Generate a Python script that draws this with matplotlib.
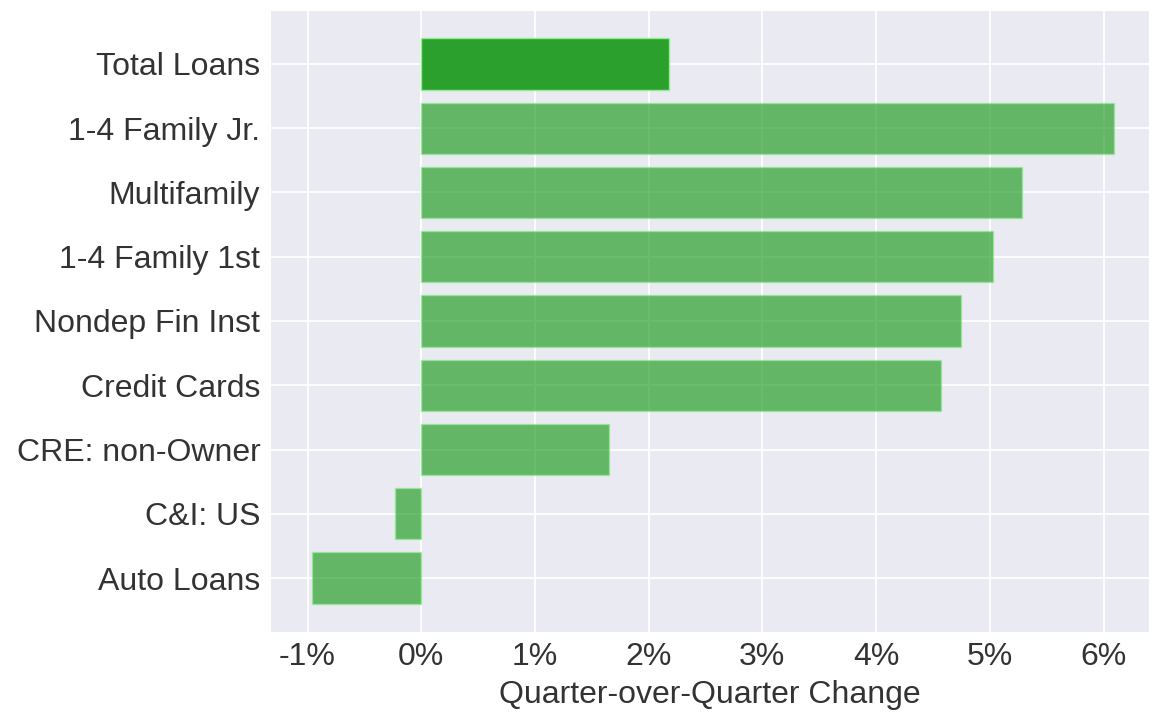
import matplotlib
matplotlib.use("Agg")
import matplotlib.pyplot as plt
import seaborn as sns
from matplotlib.ticker import FuncFormatter

categories = ["Total Loans", "1-4 Family Jr.", "Multifamily", "1-4 Family 1st",
              "Nondep Fin Inst", "Credit Cards", "CRE: non-Owner", "C&I: US", "Auto Loans"]
values = [2.18, 6.09, 5.28, 5.03, 4.75, 4.57, 1.65, -0.23, -0.96]
xticks = [-1, 0, 1, 2, 3, 4, 5, 6]

sns.set_style("darkgrid")
plt.rcParams['font.family'] = ['Liberation Sans', 'DejaVu Sans']

fig = plt.figure(figsize=(11.49, 7.16), dpi=100)
ax = fig.add_axes([270/1149, 1-632/716, 1-270/1149, (632-10)/716])

ypos = list(range(len(categories)))
for i, (c, v) in enumerate(zip(categories, values)):
    if i == 0:
        ax.barh(i, v, height=0.8, color="#2ca02c", edgecolor="#90ee90", linewidth=1)
    else:
        ax.barh(i, v, height=0.8, color="#2ca02c", alpha=0.7, edgecolor="#90ee90", linewidth=1)

ax.set_yticks(ypos)
ax.set_yticklabels(categories)
ax.invert_yaxis()
ax.set_xticks(xticks)
ax.xaxis.set_major_formatter(FuncFormatter(lambda x, p: f"{x:.0f}%"))
ax.set_xlim(-1.33, 6.4)
ax.grid(color='white', linewidth=1.3)
ax.tick_params(axis='both', labelsize=23, colors='#333333')
ax.set_xlabel("Quarter-over-Quarter Change", fontsize=23, color='#333333', labelpad=6)

fig.savefig("out.png", dpi=100)
